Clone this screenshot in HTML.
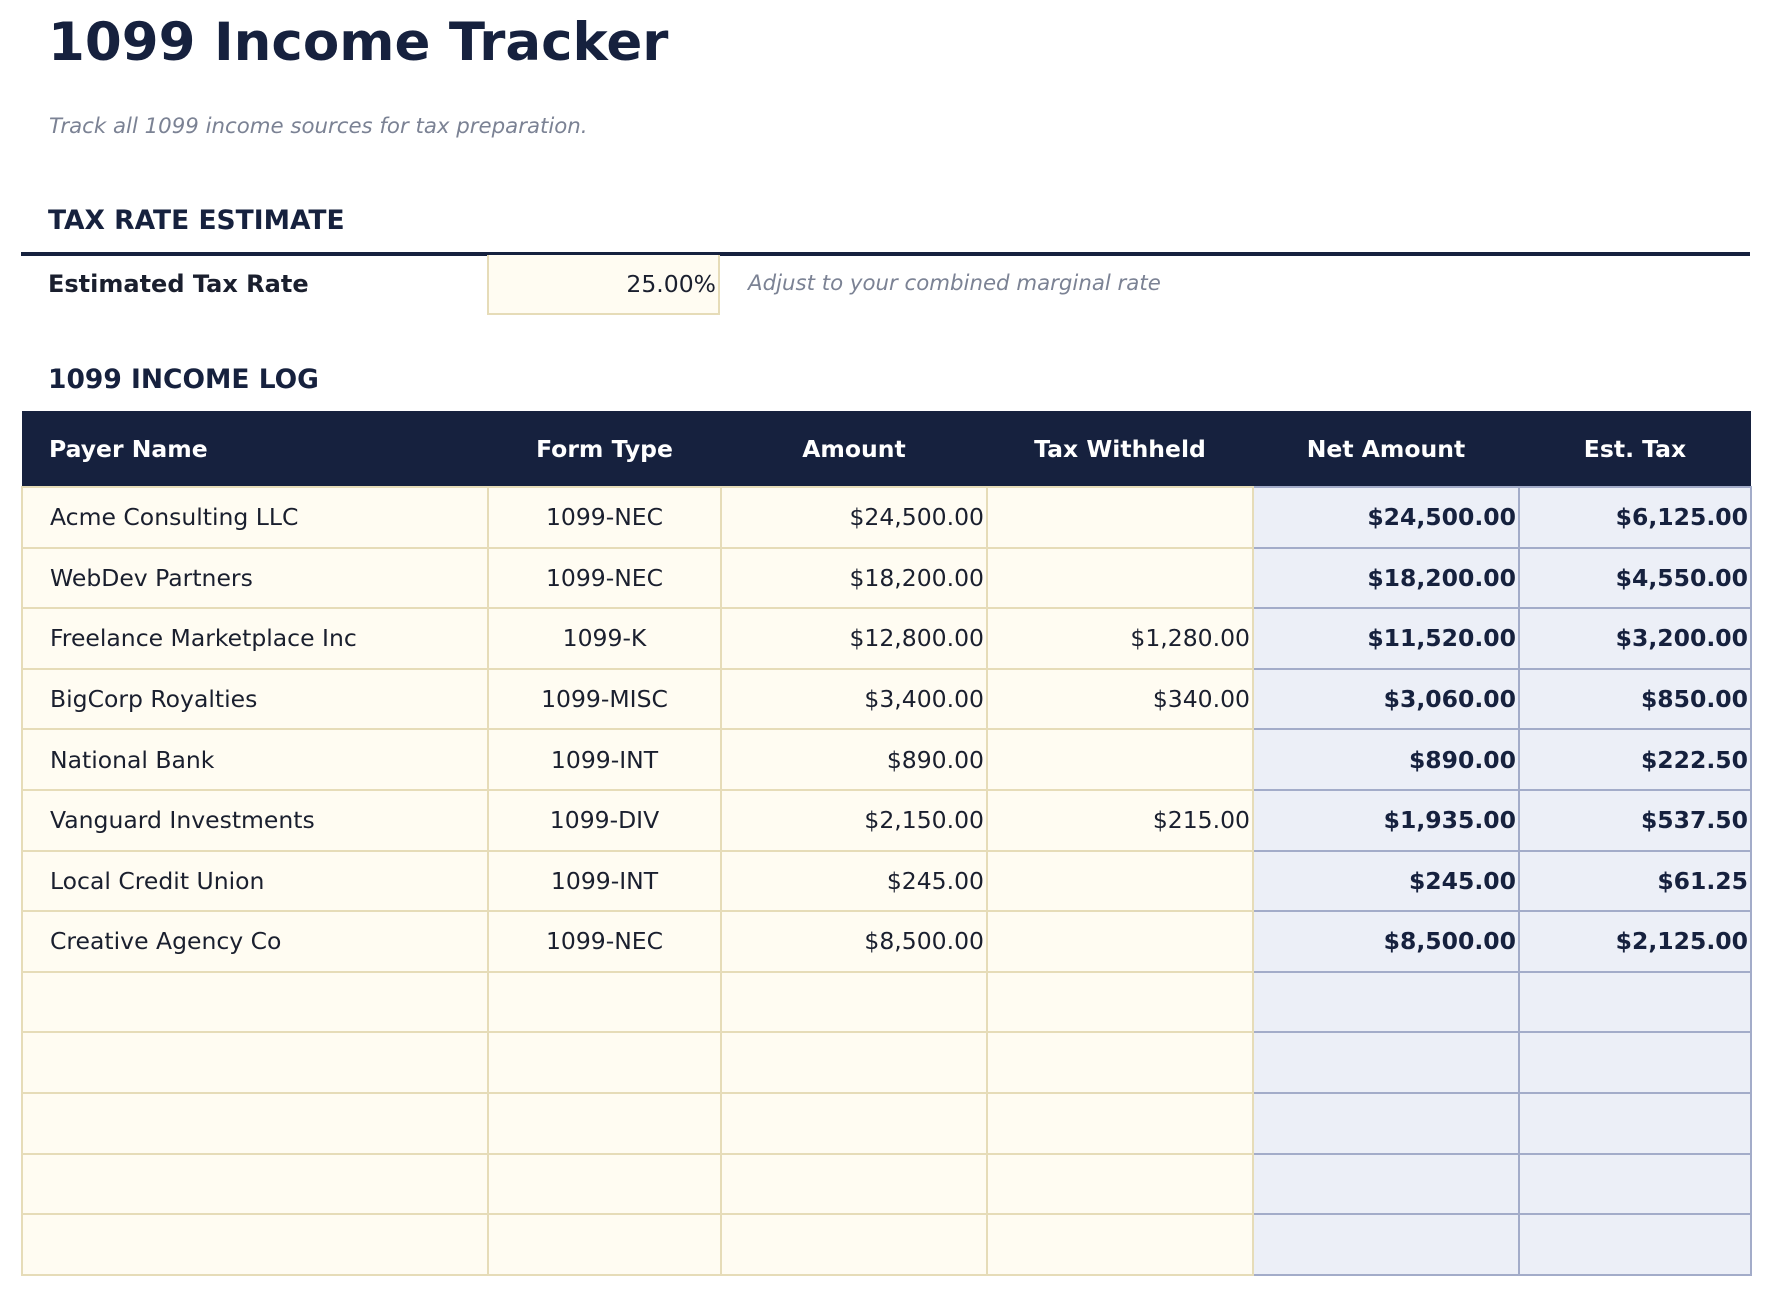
<!DOCTYPE html>
<html><head><meta charset="utf-8"><style>
*{margin:0;padding:0;box-sizing:border-box}
body{width:1771px;height:1295px;background:#fff;font-family:"DejaVu Sans","Liberation Sans",sans-serif;color:#1a1f2e;position:relative;overflow:hidden}
.a{position:absolute;white-space:nowrap}
h1{position:absolute;left:48px;top:12px;font-size:53px;font-weight:bold;color:#16213e}
.sub{left:49px;top:114px;font-size:21.3px;font-style:italic;color:#7b8294}
.sec{font-size:26.5px;font-weight:bold;color:#16213e;left:48px}
table{position:absolute;left:21px;top:411px;border-collapse:collapse;table-layout:fixed;width:1729px}
th{background:#16213e;color:#fff;height:76px;font-size:23.5px;font-weight:bold;text-align:center}
th:first-child{text-align:left;padding-left:27px}
td{height:60.6px;font-size:23.5px;background:#fffcf2;border:2px solid #e6dcb8;padding:0 2px}
td:nth-child(1){padding-left:27px}
td:nth-child(2){text-align:center}
td:nth-child(3),td:nth-child(4){text-align:right}
td:nth-child(5),td:nth-child(6){background:#eceff7;border:2px solid #a3acc9;text-align:right;font-weight:bold;color:#16213e}
</style></head><body>
<h1>1099 Income Tracker</h1>
<div class="a sub">Track all 1099 income sources for tax preparation.</div>
<div class="a sec" style="top:205px">TAX RATE ESTIMATE</div>
<div class="a" style="left:21px;top:252px;width:1729px;height:4px;background:#16213e"></div>
<div class="a" style="left:48px;top:270px;font-size:24px;font-weight:bold">Estimated Tax Rate</div>
<div class="a" style="left:487px;top:255px;width:233px;height:60px;background:#fffcf2;border:2px solid #e6dcb8;border-top:none;font-size:23.5px;text-align:right;line-height:58px;padding-right:2px">25.00%</div>
<div class="a" style="left:748px;top:271px;font-size:21.3px;font-style:italic;color:#7b8294">Adjust to your combined marginal rate</div>
<div class="a sec" style="top:364px">1099 INCOME LOG</div>
<table>
<colgroup><col style="width:466px"><col style="width:233px"><col style="width:266px"><col style="width:266px"><col style="width:266px"><col style="width:232px"></colgroup>
<tr><th>Payer Name</th><th>Form Type</th><th>Amount</th><th>Tax Withheld</th><th>Net Amount</th><th>Est. Tax</th></tr>
<tr><td>Acme Consulting LLC</td><td>1099-NEC</td><td>$24,500.00</td><td></td><td>$24,500.00</td><td>$6,125.00</td></tr>
<tr><td>WebDev Partners</td><td>1099-NEC</td><td>$18,200.00</td><td></td><td>$18,200.00</td><td>$4,550.00</td></tr>
<tr><td>Freelance Marketplace Inc</td><td>1099-K</td><td>$12,800.00</td><td>$1,280.00</td><td>$11,520.00</td><td>$3,200.00</td></tr>
<tr><td>BigCorp Royalties</td><td>1099-MISC</td><td>$3,400.00</td><td>$340.00</td><td>$3,060.00</td><td>$850.00</td></tr>
<tr><td>National Bank</td><td>1099-INT</td><td>$890.00</td><td></td><td>$890.00</td><td>$222.50</td></tr>
<tr><td>Vanguard Investments</td><td>1099-DIV</td><td>$2,150.00</td><td>$215.00</td><td>$1,935.00</td><td>$537.50</td></tr>
<tr><td>Local Credit Union</td><td>1099-INT</td><td>$245.00</td><td></td><td>$245.00</td><td>$61.25</td></tr>
<tr><td>Creative Agency Co</td><td>1099-NEC</td><td>$8,500.00</td><td></td><td>$8,500.00</td><td>$2,125.00</td></tr>
<tr><td></td><td></td><td></td><td></td><td></td><td></td></tr>
<tr><td></td><td></td><td></td><td></td><td></td><td></td></tr>
<tr><td></td><td></td><td></td><td></td><td></td><td></td></tr>
<tr><td></td><td></td><td></td><td></td><td></td><td></td></tr>
<tr><td></td><td></td><td></td><td></td><td></td><td></td></tr>
</table>
</body></html>
